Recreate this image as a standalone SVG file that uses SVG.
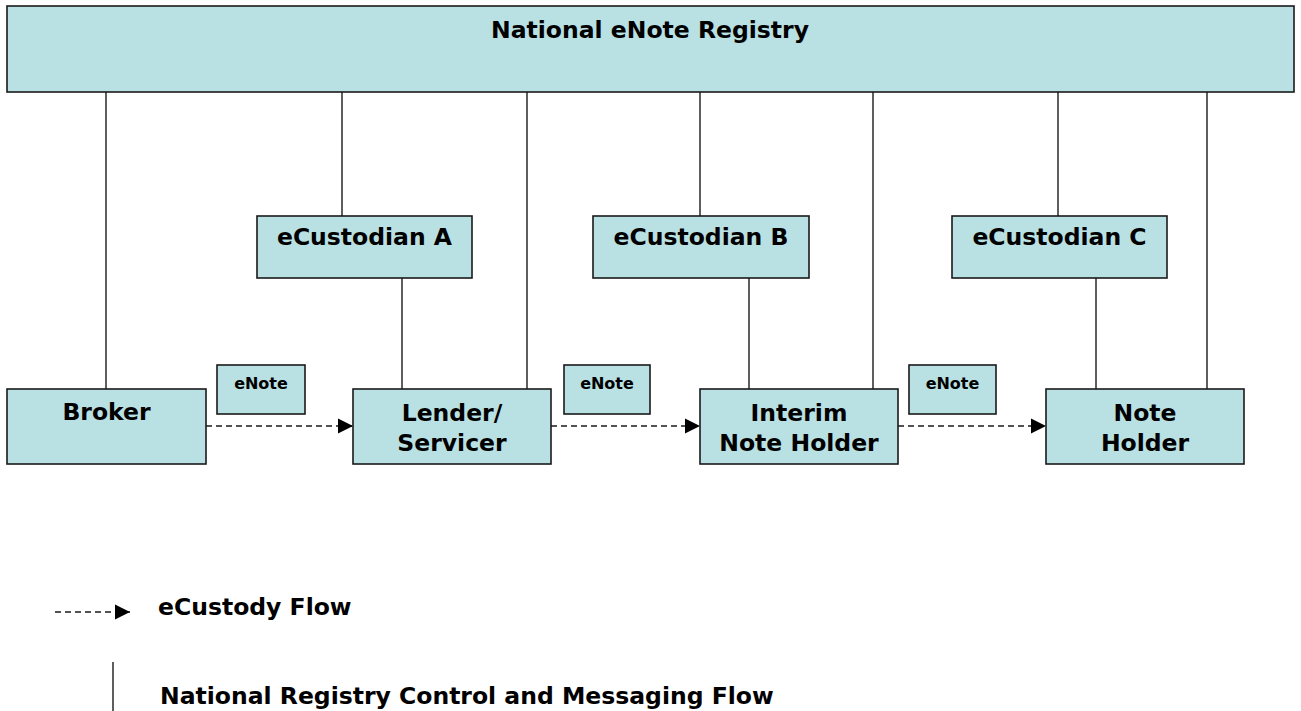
<svg xmlns="http://www.w3.org/2000/svg" width="1301" height="711" viewBox="0 0 1301 711">
<defs>
<style>
.box{fill:#B9E0E3;stroke:#1a1a1a;stroke-width:1.6}
.t{font-family:"DejaVu Sans","Liberation Sans",sans-serif;font-weight:bold;font-size:23.5px;fill:#000;text-anchor:middle}
.s{font-family:"DejaVu Sans","Liberation Sans",sans-serif;font-weight:bold;font-size:16px;fill:#000;text-anchor:middle}
.l{font-family:"DejaVu Sans","Liberation Sans",sans-serif;font-weight:bold;font-size:23.5px;fill:#000}
.ln{stroke:#1a1a1a;stroke-width:1.4;fill:none}
.d{stroke:#1a1a1a;stroke-width:1.4;fill:none;stroke-dasharray:6 4;marker-end:url(#ah)}
</style>
<marker id="ah" markerUnits="userSpaceOnUse" markerWidth="16" markerHeight="16" refX="15" refY="8" orient="auto">
<path d="M0,0.5 L15,8 L0,15.5 Z" fill="#000"/>
</marker>
</defs>
<rect width="1301" height="711" fill="#fff"/>
<g id="connectors">
<line class="ln" x1="106" y1="92" x2="106" y2="389"/>
<line class="ln" x1="342" y1="92" x2="342" y2="216"/>
<line class="ln" x1="402" y1="278" x2="402" y2="389"/>
<line class="ln" x1="527" y1="92" x2="527" y2="389"/>
<line class="ln" x1="700" y1="92" x2="700" y2="216"/>
<line class="ln" x1="749" y1="278" x2="749" y2="389"/>
<line class="ln" x1="873" y1="92" x2="873" y2="389"/>
<line class="ln" x1="1058" y1="92" x2="1058" y2="216"/>
<line class="ln" x1="1096" y1="278" x2="1096" y2="389"/>
<line class="ln" x1="1207" y1="92" x2="1207" y2="389"/>
<line class="d" x1="206" y1="426" x2="353" y2="426"/>
<line class="d" x1="551" y1="426" x2="700" y2="426"/>
<line class="d" x1="898" y1="426" x2="1046" y2="426"/>
</g>
<g id="registry">
<rect class="box" x="7" y="6" width="1287" height="86"/>
<text class="t" x="650" y="38">National eNote Registry</text>
</g>
<g id="ecustodianA">
<rect class="box" x="257" y="216" width="215" height="62"/>
<text class="t" x="364.5" y="245">eCustodian A</text>
</g>
<g id="ecustodianB">
<rect class="box" x="593" y="216" width="216" height="62"/>
<text class="t" x="701" y="245">eCustodian B</text>
</g>
<g id="ecustodianC">
<rect class="box" x="952" y="216" width="215" height="62"/>
<text class="t" x="1059.5" y="245">eCustodian C</text>
</g>
<g id="broker">
<rect class="box" x="7" y="389" width="199" height="75"/>
<text class="t" x="106.5" y="420">Broker</text>
</g>
<g id="lender">
<rect class="box" x="353" y="389" width="198" height="75"/>
<text class="t" x="452" y="421">Lender/</text>
<text class="t" x="452" y="451">Servicer</text>
</g>
<g id="interim">
<rect class="box" x="700" y="389" width="198" height="75"/>
<text class="t" x="799" y="421">Interim</text>
<text class="t" x="799" y="451">Note Holder</text>
</g>
<g id="noteholder">
<rect class="box" x="1046" y="389" width="198" height="75"/>
<text class="t" x="1145" y="421">Note</text>
<text class="t" x="1145" y="451">Holder</text>
</g>
<g id="enote1">
<rect class="box" x="217" y="365" width="88" height="49"/>
<text class="s" x="261" y="389">eNote</text>
</g>
<g id="enote2">
<rect class="box" x="564" y="365" width="86" height="49"/>
<text class="s" x="607" y="389">eNote</text>
</g>
<g id="enote3">
<rect class="box" x="909" y="365" width="87" height="49"/>
<text class="s" x="952.5" y="389">eNote</text>
</g>
<g id="legend">
<line class="d" x1="55" y1="612" x2="130" y2="612"/>
<text class="l" x="158" y="615">eCustody Flow</text>
<line class="ln" x1="113" y1="662" x2="113" y2="711"/>
<text class="l" x="160" y="704">National Registry Control and Messaging Flow</text>
</g>
</svg>
